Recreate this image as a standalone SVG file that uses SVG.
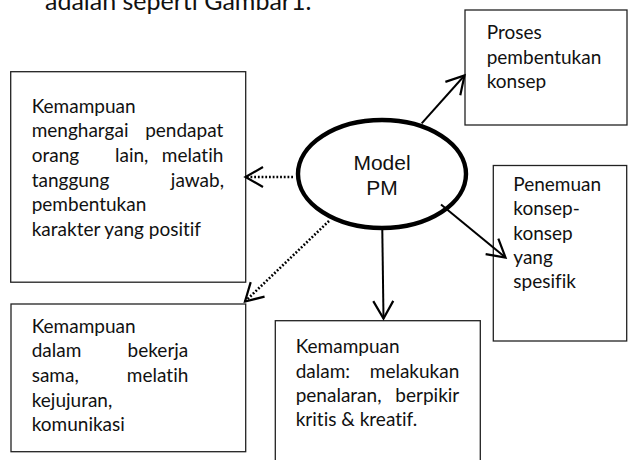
<svg xmlns="http://www.w3.org/2000/svg" width="631" height="460" viewBox="0 0 631 460">
<style>
.box{fill:#fff;stroke:#222;stroke-width:1.3}
.t{font-family:Lato,"Open Sans","DejaVu Sans",sans-serif;font-size:19px;fill:#111;font-variant-ligatures:none;font-feature-settings:"liga" 0,"clig" 0}
.e{text-anchor:end}
.cap{font-family:Lato,"Open Sans","DejaVu Sans",sans-serif;font-size:25px;fill:#111;font-variant-ligatures:none}
.m{font-family:"Liberation Sans",Arial,sans-serif;font-size:21px;fill:#111;text-anchor:middle}
.conn{stroke:#000;stroke-width:2;fill:none}
.solid{marker-end:url(#arr)}
.dot{stroke-width:2.6;stroke-dasharray:1.8 1.9;marker-end:url(#arr)}
</style>
<defs>
<marker id="arr" markerUnits="userSpaceOnUse" viewBox="-22 -13 26 26" refX="0" refY="0" markerWidth="26" markerHeight="26" orient="auto" overflow="visible">
<path d="M-17.5,-10 L0,0 L-17.5,10" fill="none" stroke="#000" stroke-width="2.2" stroke-linejoin="miter"/>
</marker>
</defs>
<g id="caption"><text class="cap" x="45" y="10">adalah seperti Gambar1.</text></g>
<g id="model">
<ellipse cx="382" cy="174" rx="84" ry="54" fill="#fff" stroke="#000" stroke-width="4.4"/>
<text class="m" x="382" y="170">Model</text>
<text class="m" x="382" y="195">PM</text>
</g>
<g id="proses">
<rect class="box" x="465" y="10" width="162" height="115"/>
<text class="t" x="486.7" y="39">Proses</text>
<text class="t" x="486.7" y="63.5">pembentukan</text>
<text class="t" x="486.7" y="88">konsep</text>
</g>
<g id="penemuan">
<rect class="box" x="493.3" y="165.5" width="133.4" height="175.5"/>
<text class="t" x="513.3" y="191">Penemuan</text>
<text class="t" x="513.3" y="215">konsep-</text>
<text class="t" x="513.3" y="239.5">konsep</text>
<text class="t" x="513.3" y="263.5">yang</text>
<text class="t" x="513.3" y="287.5">spesifik</text>
</g>
<g id="karakter">
<rect class="box" x="10.7" y="71.7" width="235" height="210.5"/>
<text class="t" x="31.7" y="112.7">Kemampuan</text>
<text class="t" x="31.7" y="137.3">menghargai</text>
<text class="t e" x="223.3" y="137.3">pendapat</text>
<text class="t" x="31.7" y="161.9">orang</text>
<text class="t" x="115" y="161.9">lain,</text>
<text class="t e" x="223.3" y="161.9">melatih</text>
<text class="t" x="31.7" y="186.5">tanggung</text>
<text class="t e" x="224" y="186.5">jawab,</text>
<text class="t" x="31.7" y="211.1">pembentukan</text>
<text class="t" x="31.7" y="235.7">karakter yang positif</text>
</g>
<g id="kerjasama">
<rect class="box" x="11" y="304" width="234.7" height="147.7"/>
<text class="t" x="31.7" y="332.7">Kemampuan</text>
<text class="t" x="31.7" y="357.3">dalam</text>
<text class="t e" x="188.3" y="357.3">bekerja</text>
<text class="t" x="31.7" y="381.9">sama,</text>
<text class="t e" x="188.3" y="381.9">melatih</text>
<text class="t" x="31.7" y="406.5">kejujuran,</text>
<text class="t" x="31.7" y="431.1">komunikasi</text>
</g>
<g id="penalaran">
<rect class="box" x="275.3" y="320.7" width="205" height="150"/>
<text class="t" x="295.7" y="353.3">Kemampuan</text>
<text class="t" x="295.7" y="377.6">dalam:</text>
<text class="t e" x="459.3" y="377.6">melakukan</text>
<text class="t" x="295.7" y="401.9">penalaran,</text>
<text class="t e" x="459.3" y="401.9">berpikir</text>
<text class="t" x="295.7" y="426.2">kritis &amp; kreatif.</text>
</g>
<g id="connectors">
<line class="conn solid" x1="421.7" y1="123.3" x2="464.5" y2="75.5"/>
<line class="conn solid" x1="441" y1="204.5" x2="505.5" y2="257.5"/>
<line class="conn solid" x1="382.3" y1="230" x2="383.5" y2="318.5"/>
<line class="conn dot" x1="293" y1="177" x2="245.5" y2="177"/>
<line class="conn dot" x1="329" y1="221" x2="245" y2="301.5"/>
</g>
</svg>
